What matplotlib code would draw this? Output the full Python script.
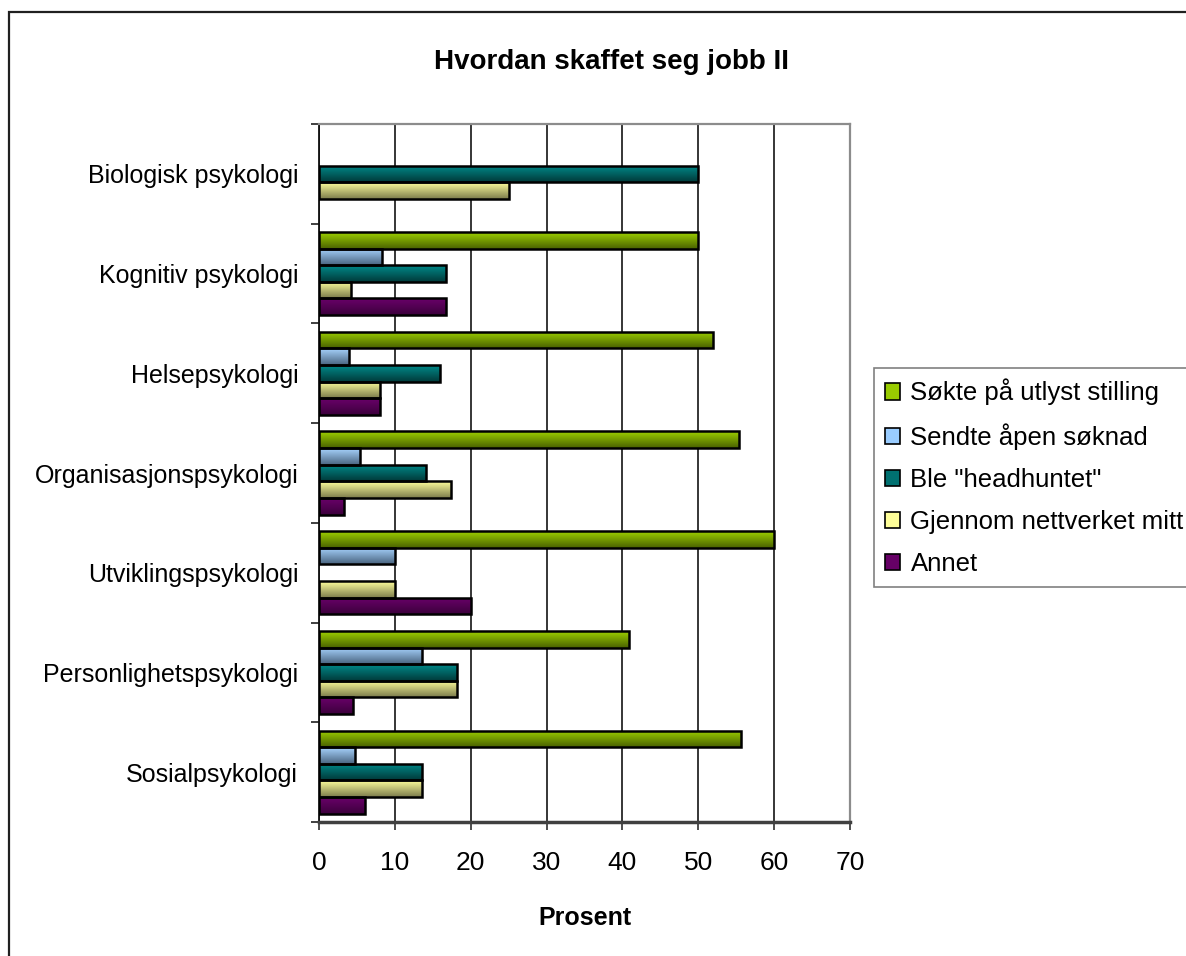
import numpy as np
import matplotlib
matplotlib.use("Agg")
import matplotlib.pyplot as plt
from matplotlib.colors import LinearSegmentedColormap
from matplotlib.patches import Patch, Rectangle

plt.rcParams['font.family'] = ['Liberation Sans', 'DejaVu Sans']

# data (percent)
categories = ['Biologisk psykologi', 'Kognitiv psykologi', 'Helsepsykologi',
              'Organisasjonspsykologi', 'Utviklingspsykologi',
              'Personlighetspsykologi', 'Sosialpsykologi']
series = ['Søkte på utlyst stilling', 'Sendte åpen søknad', 'Ble "headhuntet"',
          'Gjennom nettverket mitt', 'Annet']
sokte = [0, 50, 52, 55.4, 60, 40.9, 55.6]
apen = [0, 8.3, 4, 5.4, 10, 13.6, 4.8]
headhunt = [50, 16.7, 16, 14.1, 0, 18.2, 13.6]
nettverk = [25, 4.2, 8, 17.4, 10, 18.2, 13.6]
annet = [0, 16.7, 8, 3.3, 20, 4.5, 6.1]
values = [sokte, apen, headhunt, nettverk, annet]

# (top, bottom) colours of the gradient, plus a flat one for the legend
grads = [('#9dd000', '#4a6200'),
         ('#a8d4ff', '#4a6580'),
         ('#008a8a', '#003a3a'),
         ('#ffff9c', '#7c7c4c'),
         ('#6a006a', '#3c003c')]
flat = ['#99cc00', '#99ccff', '#007070', '#ffff99', '#660066']

fig = plt.figure(figsize=(11.86, 9.56), dpi=100)
ax = fig.add_axes([319/1186, 1-822/956, 531/1186, 698/956])

n = len(categories)
h = 0.1665
ypos = np.arange(n)[::-1]


def grad_fill(bar, top, bottom):
    x0, y0 = bar.get_x(), bar.get_y()
    w, hh = bar.get_width(), bar.get_height()
    cmap = LinearSegmentedColormap.from_list('g', [bottom, top])
    img = ax.imshow(np.linspace(0, 1, 64).reshape(-1, 1),
                    extent=[x0, x0 + w, y0, y0 + hh], origin='lower',
                    cmap=cmap, aspect='auto', zorder=2.5,
                    interpolation='bilinear')
    img.set_clip_path(bar)


for j, vals in enumerate(values):
    ys = ypos + (2 - j) * h
    for y, v in zip(ys, vals):
        if v <= 0:
            continue
        b = ax.barh(y, v, height=h, facecolor='none', edgecolor='black',
                    linewidth=1.8, zorder=3)[0]
        grad_fill(b, *grads[j])

ax.set_xlim(0, 70)
ax.set_ylim(-0.5, n - 0.5)
ax.set_xticks(np.arange(0, 71, 10))
ax.set_yticks(ypos)
ax.set_yticklabels(categories)
ax.set_yticks(np.arange(-0.5, n, 1), minor=True)
ax.tick_params(axis='y', which='major', length=0, pad=15, labelsize=18)
ax.tick_params(axis='y', which='minor', length=6, width=1.2, color='#202020')
ax.tick_params(axis='x', length=6, width=1.2, color='#303030', pad=15,
               labelsize=19)
ax.xaxis.grid(True, color='black', linewidth=1.1)
ax.set_axisbelow(True)

ax.spines['left'].set_color('#101010')
ax.spines['left'].set_linewidth(1.3)
ax.spines['bottom'].set_color('#404040')
ax.spines['bottom'].set_linewidth(2.5)
for s in ['top', 'right']:
    ax.spines[s].set_color('#8c8c8c')
    ax.spines[s].set_linewidth(1.6)

ax.set_xlabel('Prosent', fontsize=18, fontweight='bold', labelpad=22)
fig.text(611/1186, 1-62/956, 'Hvordan skaffet seg jobb II', fontsize=20,
         fontweight='bold', ha='center', va='center')

handles = [Patch(facecolor=c, edgecolor='black', linewidth=1.2) for c in flat]
leg = fig.legend(handles, series, loc='upper left',
                 bbox_to_anchor=(874/1186, 1-368/956),
                 bbox_transform=fig.transFigure, fontsize=18.5,
                 fancybox=False, edgecolor='#808080', framealpha=1,
                 handlelength=0.6, handleheight=0.6, handletextpad=0.4,
                 labelspacing=0.7, borderpad=0.42, borderaxespad=0)
leg.get_frame().set_linewidth(1.2)

# outer chart border (runs off the right and bottom edges)
fig.patches.append(Rectangle((9/1186, -0.05), 1.2, 1 - 12/956 + 0.05,
                             transform=fig.transFigure, fill=False,
                             edgecolor='#202020', linewidth=1.6))

fig.savefig('out.png', dpi=100)
